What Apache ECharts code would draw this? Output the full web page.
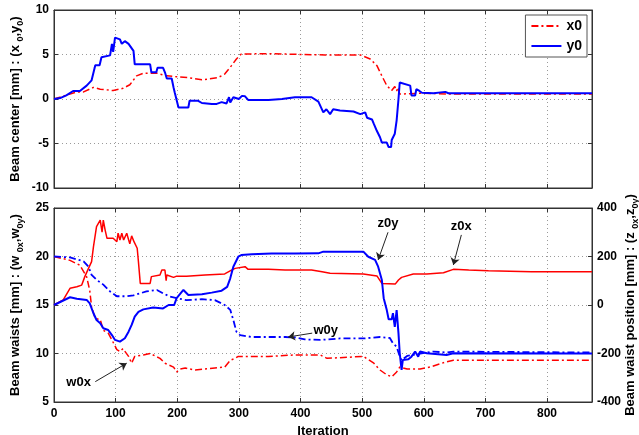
<!DOCTYPE html>
<html>
<head>
<meta charset="utf-8">
<script src="https://cdn.jsdelivr.net/npm/echarts@6/dist/echarts.min.js"></script>
<style>
  html, body { margin: 0; padding: 0; background: #fff; }
  #chart { width: 639px; height: 435px; }
</style>
</head>
<body>
<div id="chart"></div>
<script>
// top panel: beam center (mm)
const x0Data = [[0,0],[21,0.45],[37,0.8],[48,0.8],[64,1.3],[75,1.1],[96,0.95],[112,1.2],[123,1.6],[134,2.6],[145,2.9],[167,2.9],[183,2.6],[199,2.5],[218,2.4],[240,2.15],[266,2.4],[277,2.8],[288,3.75],[296,4.5],[304,5.05],[348,5.1],[402,5.0],[440,4.95],[497,4.95],[513,4.5],[524,3.75],[532,2.6],[540,1.5],[548,0.95],[553,1.4],[556,0.9],[558,1.3],[561,0.55],[594,0.65],[650,0.55],[873,0.55]]
const y0Data = [[0,0],[10,0.1],[20,0.4],[31,0.9],[42,0.9],[53,1.5],[61,2.1],[66,3.5],[67,3.8],[74,3.8],[77,4.7],[91,4.9],[94,6.2],[96,5.3],[99,6.9],[107,6.7],[110,6.2],[115,6.5],[121,6.2],[124,6.4],[129,5.4],[131,3.9],[156,3.9],[158,3.0],[166,3.0],[168,3.5],[177,3.5],[180,3.0],[183,2.3],[191,2.3],[194,1.3],[196,0.7],[199,0.7],[202,-0.95],[218,-0.95],[220,-0.2],[234,-0.2],[240,-0.45],[256,-0.55],[264,-0.55],[272,-0.35],[280,-0.5],[284,0.2],[286,-0.4],[291,0.2],[300,0.0],[305,0.35],[310,0.3],[315,-0.1],[348,-0.1],[370,0.0],[391,0.2],[418,0.2],[429,-0.3],[437,-1.5],[442,-1.15],[448,-1.7],[453,-1.15],[464,-1.3],[486,-1.4],[497,-1.7],[505,-1.5],[508,-2.1],[516,-2.3],[519,-2.8],[524,-3.6],[529,-4.3],[532,-4.9],[540,-4.9],[543,-5.4],[547,-5.4],[548,-4.6],[553,-3.9],[556,-2.4],[559,0],[561,1.85],[578,1.5],[580,0.4],[586,0.4],[588,1.1],[593,0.9],[597,0.7],[616,0.65],[635,0.8],[640,0.65],[873,0.65]]

// bottom panel: beam waists (mm, left axis)
const w0xData = [[0,20.0],[26,19.6],[42,19.1],[53,17.9],[58,16.5],[61,14.8],[67,13.6],[75,13.5],[80,12.4],[88,12.1],[94,11.4],[102,10.4],[107,10.2],[112,10.5],[121,9.7],[126,9.0],[131,9.7],[145,9.85],[156,10.0],[172,9.5],[180,9.0],[194,8.6],[199,8.1],[205,8.4],[213,8.5],[229,8.3],[261,8.5],[277,8.6],[286,9.3],[294,9.5],[299,9.7],[348,9.7],[391,9.85],[432,9.85],[443,9.5],[502,9.7],[519,9.0],[529,8.3],[540,7.8],[548,7.6],[556,8.1],[561,8.6],[573,8.4],[594,8.4],[610,8.6],[637,9.15],[648,9.3],[873,9.3]]
const w0yData = [[0,20.0],[26,19.9],[48,19.5],[56,18.95],[61,18.1],[69,17.6],[80,17.1],[91,16.4],[102,15.9],[118,15.9],[129,16.0],[150,16.4],[167,16.55],[177,16.2],[187,15.9],[199,15.7],[215,15.5],[240,15.6],[261,15.5],[277,15.0],[286,14.5],[291,13.45],[296,12.25],[302,11.9],[321,11.7],[375,11.7],[391,11.65],[407,11.45],[432,11.4],[464,11.55],[502,11.55],[529,11.7],[545,11.6],[550,11.05],[556,10.7],[561,9.7],[564,9.3],[573,9.75],[594,10.0],[616,10.2],[637,10.1],[648,10.2],[873,10.1]]

// bottom panel: beam waist position (mm, right axis)
const z0xData = [[0,0],[15,21],[26,69],[37,75],[45,82],[50,117],[56,151],[61,179],[64,240],[69,323],[75,350],[78,300],[80,350],[83,309],[86,275],[96,275],[102,261],[104,296],[107,268],[110,296],[113,268],[118,296],[123,252],[126,285],[130,260],[135,234],[137,179],[140,89],[156,89],[158,117],[172,124],[175,144],[180,144],[182,100],[183,124],[194,114],[199,119],[215,119],[245,124],[277,128],[288,144],[294,151],[310,158],[315,147],[348,147],[375,144],[418,144],[435,137],[448,131],[502,128],[524,120],[532,89],[554,87],[559,103],[564,114],[583,128],[605,128],[632,133],[648,147],[673,144],[705,141],[775,137],[873,137]]
const z0yData = [[0,0],[26,32],[37,26],[53,21],[58,7],[64,-34],[69,-62],[75,-75],[80,-96],[88,-103],[94,-124],[99,-144],[107,-151],[115,-137],[121,-110],[126,-82],[131,-48],[137,-28],[145,-18],[161,-10],[177,-14],[186,0],[195,0],[199,28],[210,62],[213,69],[218,41],[240,44],[256,51],[272,59],[281,75],[286,110],[291,158],[299,199],[304,206],[321,209],[353,212],[391,212],[429,213],[437,220],[502,220],[510,199],[521,186],[526,158],[532,103],[535,28],[540,-21],[543,-59],[548,-59],[550,-34],[553,-90],[556,-21],[559,-117],[561,-199],[564,-268],[566,-227],[575,-224],[580,-213],[586,-192],[591,-213],[594,-192],[605,-199],[637,-206],[648,-199],[873,-200]]

// annotations: [text pos, arrow start, arrow end]
const w0xNote = [[40,7.0],[67,7.1],[118,9.0]]
const w0yNote = [[441,12.4],[419,12.1],[380,11.7]]
const z0yNote = [[542,338],[542,300],[526,186]]
const z0xNote = [[661,322],[661,289],[648,165]]

const font = 'Liberation Sans, Arial, sans-serif'
const dashDot = [7, 3, 2, 3]
const xMax = 873

const chart = echarts.init(document.getElementById('chart'))

const gridLine = { show: true, lineStyle: { color: '#9a9a9a', type: [1, 3], width: 1 } }
const axisLine = { show: true, onZero: false, lineStyle: { color: '#333', width: 1 } }
const tick = { show: true, inside: true, length: 4, lineStyle: { color: '#333' } }
const label = { color: '#000', fontWeight: 'bold', fontSize: 12, fontFamily: font }

const nameRich = {
  b: { fontWeight: 'bold', fontSize: 13, fontFamily: font, color: '#000', lineHeight: 20, verticalAlign: 'middle' },
  s: { fontWeight: 'bold', fontSize: 9, fontFamily: font, color: '#000', lineHeight: 20, verticalAlign: 'bottom' }
}

const note = (pts, text) => ({
  markPoint: {
    symbol: 'circle', symbolSize: 0, silent: true,
    label: { show: true, position: 'inside', formatter: text, color: '#000', fontWeight: 'bold', fontSize: 13, fontFamily: font },
    data: [{ coord: pts[0] }]
  },
  markLine: {
    silent: true, animation: false,
    symbol: ['none', 'arrow'], symbolSize: 7,
    label: { show: false },
    lineStyle: { color: '#222', type: 'solid', width: 1 },
    data: [[{ coord: pts[1] }, { coord: pts[2] }]]
  }
})

const option = {
  backgroundColor: '#fff',
  animation: false,
  grid: [
    { left: 54, right: 47, top: 10, height: 178, show: true, borderColor: '#333', borderWidth: 1, outerBoundsMode: 'none', containLabel: false },
    { left: 54, right: 47, top: 208, height: 194, show: true, borderColor: '#333', borderWidth: 1, outerBoundsMode: 'none', containLabel: false }
  ],
  legend: {
    right: 52, top: 15, orient: 'vertical',
    backgroundColor: '#fff', borderColor: '#555', borderWidth: 1,
    padding: [4, 5, 4, 5], itemGap: 6, itemWidth: 30, itemHeight: 10,
    itemStyle: { opacity: 0 },
    textStyle: { color: '#000', fontWeight: 'bold', fontSize: 14, fontFamily: font },
    data: ['x0', 'y0']
  },
  xAxis: [
    { type: 'value', gridIndex: 0, min: 0, max: xMax, interval: 100, axisLine, axisTick: tick, axisLabel: { show: false }, splitLine: gridLine },
    { type: 'value', gridIndex: 1, min: 0, max: xMax, interval: 100, axisLine, axisTick: tick,
      axisLabel: { ...label, margin: 6, showMaxLabel: false }, splitLine: gridLine,
      name: 'Iteration', nameLocation: 'middle', nameGap: 23,
      nameTextStyle: { color: '#000', fontWeight: 'bold', fontSize: 13, fontFamily: font } },
    { type: 'value', gridIndex: 0, position: 'top', min: 0, max: xMax, interval: 100, axisLine, axisTick: tick, axisLabel: { show: false }, splitLine: { show: false } },
    { type: 'value', gridIndex: 1, position: 'top', min: 0, max: xMax, interval: 100, axisLine, axisTick: tick, axisLabel: { show: false }, splitLine: { show: false } }
  ],
  yAxis: [
    { type: 'value', gridIndex: 0, min: -10, max: 10, interval: 5, axisLine, axisTick: tick,
      axisLabel: { ...label, margin: 5 }, splitLine: gridLine,
      name: '{b|Beam center [mm] : (x }{s|0}{b|,y}{s|0}{b|)}', nameLocation: 'middle', nameGap: 29, nameRotate: 90,
      nameMoveOverlap: false,
      nameTextStyle: { rich: nameRich } },
    { type: 'value', gridIndex: 1, min: 5, max: 25, interval: 5, axisLine, axisTick: tick,
      axisLabel: { ...label, margin: 5 }, splitLine: gridLine,
      name: '{b|Beam waists [mm] : (w }{s|0x}{b|,w}{s|0y}{b|)}', nameLocation: 'middle', nameGap: 29, nameRotate: 90,
      nameMoveOverlap: false,
      nameTextStyle: { rich: nameRich } },
    { type: 'value', gridIndex: 1, position: 'right', min: -400, max: 400, interval: 200, axisLine, axisTick: tick,
      axisLabel: { ...label, margin: 5 }, splitLine: { show: false },
      name: '{b|Beam waist position [mm] : (z }{s|0x}{b|,z}{s|0y}{b|)}', nameLocation: 'middle', nameGap: 28, nameRotate: 90,
      nameMoveOverlap: false,
      nameTextStyle: { rich: nameRich } },
    { type: 'value', gridIndex: 0, position: 'right', min: -10, max: 10, interval: 5, axisLine, axisTick: tick,
      axisLabel: { show: false }, splitLine: { show: false } }
  ],
  series: [
    { name: 'x0', type: 'line', xAxisIndex: 0, yAxisIndex: 0, data: x0Data, symbol: 'none',
      lineStyle: { color: '#ff0000', width: 1.5, type: dashDot }, itemStyle: { color: '#ff0000' } },
    { name: 'y0', type: 'line', xAxisIndex: 0, yAxisIndex: 0, data: y0Data, symbol: 'none',
      lineStyle: { color: '#0000ff', width: 2 }, itemStyle: { color: '#0000ff' } },
    { name: 'w0x', type: 'line', xAxisIndex: 1, yAxisIndex: 1, data: w0xData, symbol: 'none',
      lineStyle: { color: '#ff0000', width: 1.5, type: dashDot }, itemStyle: { color: '#ff0000' },
      ...note(w0xNote, 'w0x') },
    { name: 'w0y', type: 'line', xAxisIndex: 1, yAxisIndex: 1, data: w0yData, symbol: 'none',
      lineStyle: { color: '#0000ff', width: 1.8, type: dashDot }, itemStyle: { color: '#0000ff' },
      ...note(w0yNote, 'w0y') },
    { name: 'z0x', type: 'line', xAxisIndex: 1, yAxisIndex: 2, data: z0xData, symbol: 'none',
      lineStyle: { color: '#ff0000', width: 1.5 }, itemStyle: { color: '#ff0000' },
      ...note(z0xNote, 'z0x') },
    { name: 'z0y', type: 'line', xAxisIndex: 1, yAxisIndex: 2, data: z0yData, symbol: 'none',
      lineStyle: { color: '#0000ff', width: 2 }, itemStyle: { color: '#0000ff' },
      ...note(z0yNote, 'z0y') }
  ]
}

chart.setOption(option)
</script>
</body>
</html>
